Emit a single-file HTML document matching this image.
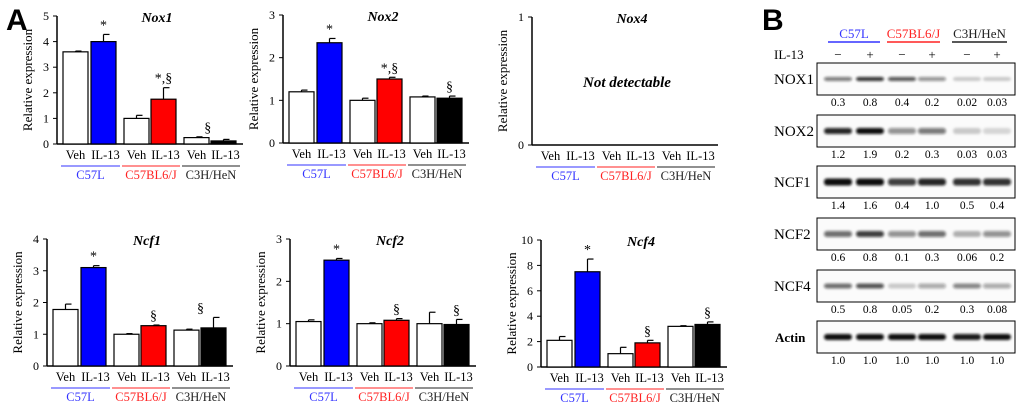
<!DOCTYPE html>
<html><head><meta charset="utf-8">
<style>
body{margin:0;background:#fff;}
svg{display:block;font-family:"Liberation Serif",serif;}
</style></head>
<body>
<svg id="fig" width="1020" height="402" viewBox="0 0 1020 402" xmlns="http://www.w3.org/2000/svg">
<defs><filter id="blur" x="-20%" y="-100%" width="140%" height="300%"><feGaussianBlur stdDeviation="1.2"/></filter></defs>
<text x="6" y="30" font-family="Liberation Sans,sans-serif" font-weight="bold" font-size="30">A</text>
<text x="762" y="30" font-family="Liberation Sans,sans-serif" font-weight="bold" font-size="30">B</text>
</svg>
<script>
const groups = ["C57L","C57BL6/J","C3H/HeN"];
const conds = ["Veh","IL-13"];
const nox1Vals = [3.6,4.0,1.0,1.75,0.25,0.12];
const nox1Err = [0.03,0.28,0.12,0.45,0.03,0.06];
const nox2Vals = [1.2,2.35,1.0,1.5,1.08,1.05];
const nox2Err = [0.04,0.1,0.05,0.04,0.02,0.05];
const ncf1Vals = [1.78,3.1,1.0,1.27,1.13,1.2];
const ncf1Err = [0.17,0.06,0.02,0.02,0.03,0.33];
const ncf2Vals = [1.05,2.5,1.0,1.08,1.0,0.98];
const ncf2Err = [0.04,0.04,0.02,0.04,0.27,0.12];
const ncf4Vals = [2.1,7.5,1.05,1.9,3.2,3.35];
const ncf4Err = [0.3,1.0,0.5,0.2,0.05,0.2];
const blotRows = ["NOX1","NOX2","NCF1","NCF2","NCF4","Actin"];
const blotNox1 = ["0.3","0.8","0.4","0.2","0.02","0.03"];
const blotNox2 = ["1.2","1.9","0.2","0.3","0.03","0.03"];
const blotNcf1 = ["1.4","1.6","0.4","1.0","0.5","0.4"];
const blotNcf2 = ["0.6","0.8","0.1","0.3","0.06","0.2"];
const blotNcf4 = ["0.5","0.8","0.05","0.2","0.3","0.08"];
const blotActin = ["1.0","1.0","1.0","1.0","1.0","1.0"];

const NS="http://www.w3.org/2000/svg";
const svg=document.getElementById('fig');
function mk(tag,attrs,parent,text){const e=document.createElementNS(NS,tag);for(const k in attrs)e.setAttribute(k,attrs[k]);if(text!==undefined)e.textContent=text;(parent||svg).appendChild(e);return e;}
const gColors=["#3333ff","#ff2222","#222"];
const fills=["#fff","#0000ff","#fff","#ff0000","#fff","#000"];
const barOff=[6,34,67,94,127,154];
const bw=25;

function chart(o){
  const g=mk('g',{});
  
  
  const ax=o.ax, zy=o.zy, ty=o.ty;
  const yS=v=>zy-(v/o.max)*(zy-ty);
  // axes
  const yl=mk('line',{x1:ax,y1:ty,x2:ax,y2:zy,stroke:'#000','stroke-width':1.5},g);
  
  const xl=mk('line',{x1:ax,y1:zy,x2:ax+186,y2:zy,stroke:'#000','stroke-width':1.5},g);
  
  o.ticks.forEach(t=>{
    mk('line',{x1:ax-4,y1:yS(t),x2:ax,y2:yS(t),stroke:'#000'},g);
    const tl=mk('text',{x:ax-8,y:yS(t)+4,'font-size':12,'text-anchor':'end'},g,String(t));
    
  });
  const yt=mk('text',{transform:`translate(${ax-25},${(ty+zy)/2}) rotate(-90)`,'font-size':13,'text-anchor':'middle'},g,'Relative expression');
  
  const tt=mk('text',{x:ax+100,y:ty+6,'font-size':14,'font-weight':'bold','font-style':'italic','text-anchor':'middle'},g,o.title);
  
  if(o.vals){
    o.vals.forEach((v,i)=>{
      const x=ax+barOff[i];
      const top=yS(v+o.err[i]);
      mk('line',{x1:x+bw/2,y1:yS(v),x2:x+bw/2,y2:top,stroke:'#000','stroke-width':1.2},g);
      mk('line',{x1:x+bw/2,y1:top,x2:x+bw/2+6,y2:top,stroke:'#000','stroke-width':1.2},g);
      const r=mk('rect',{x:x,y:yS(v),width:bw,height:zy-yS(v),fill:fills[i],stroke:'#000','stroke-width':1.2},g);
      
    });
    o.ann.forEach(a=>{
      const i=a[0];const bi=Math.floor(i);
      const x=ax+barOff[bi]+bw/2+(i-bi)*28;
      const v=Math.max(o.vals[bi]+o.err[bi], bi+1<6&&i>bi?o.vals[bi+1]+o.err[bi+1]:0);
      const at=mk('text',{x:x,y:yS(v)-5,'font-size':14,'text-anchor':'middle'},g,a[1]);
      
    });
  } else {
    const nd=mk('text',{x:ax+95,y:(ty+zy)/2+6,'font-size':15,'font-weight':'bold','font-style':'italic','text-anchor':'middle'},g,'Not detectable');
    
  }
  for(let gi=0;gi<3;gi++){
    for(let c=0;c<2;c++){
      const i=gi*2+c;
      const cl=mk('text',{x:ax+barOff[i]+bw/2+(c?2:0),y:zy+15,'font-size':12.5,'text-anchor':'middle'},g,conds[c]);
      
    }
    const x0=ax+barOff[gi*2]-2, x1=ax+barOff[gi*2+1]+bw+4;
    mk('line',{x1:x0,y1:zy+22,x2:x1,y2:zy+22,stroke:gColors[gi],'stroke-width':1},g);
    const sl=mk('text',{x:(x0+x1)/2,y:zy+35,'font-size':12.5,'text-anchor':'middle',fill:gColors[gi]},g,groups[gi]);
    
  }
}
chart({name:'nox1',title:'Nox1',ax:57,ty:16,zy:144,max:5,ticks:[0,1,2,3,4,5],vals:nox1Vals,err:nox1Err,ann:[[1,'*'],[3,'*,§'],[4.4,'§']]});
chart({name:'nox2',title:'Nox2',ax:283,ty:15,zy:143,max:3,ticks:[0,1,2,3],vals:nox2Vals,err:nox2Err,ann:[[1,'*'],[3,'*,§'],[5,'§']]});
chart({name:'nox4',title:'Nox4',ax:532,ty:17,zy:145,max:1,ticks:[0,1],vals:null});
chart({name:'ncf1',title:'Ncf1',ax:47,ty:239,zy:366,max:4,ticks:[0,1,2,3,4],vals:ncf1Vals,err:ncf1Err,ann:[[1,'*'],[3,'§'],[4.5,'§']]});
chart({name:'ncf2',title:'Ncf2',ax:290,ty:239,zy:366,max:3,ticks:[0,1,2,3],vals:ncf2Vals,err:ncf2Err,ann:[[1,'*'],[3,'§'],[5,'§']]});
chart({name:'ncf4',title:'Ncf4',ax:541,ty:240,zy:367,max:10,ticks:[0,2,4,6,8,10],vals:ncf4Vals,err:ncf4Err,ann:[[1,'*'],[3,'§'],[5,'§']]});

// Western blot panel
const lanes=[838,870,902,932,967,997];
const gx=[[828,880],[887,940],[952,1007]];
groups.forEach((s,i)=>{
  const t=mk('text',{x:(gx[i][0]+gx[i][1])/2,y:38,'font-size':13,'text-anchor':'middle',fill:gColors[i]},svg,s);
  
  mk('line',{x1:gx[i][0],y1:42,x2:gx[i][1],y2:42,stroke:gColors[i],'stroke-width':1.5});
});
const il=mk('text',{x:774,y:59,'font-size':13},svg,'IL-13');

lanes.forEach((x,i)=>{mk('text',{x:x,y:59,'font-size':13,'text-anchor':'middle'},svg,i%2?'+':'−');});
const rowY=[63,115,166,218,270,321];
const rowVals=[blotNox1,blotNox2,blotNcf1,blotNcf2,blotNcf4,blotActin];
const bandOp=[[0.55,0.85,0.7,0.45,0.2,0.2],[0.9,1,0.45,0.55,0.2,0.15],[1,1,0.8,0.9,0.85,0.85],[0.6,0.8,0.45,0.6,0.3,0.45],[0.6,0.7,0.2,0.35,0.5,0.35],[1,1,1,1,0.95,1]];
const bandH=[4,6,7,6,5,6];
blotRows.forEach((r,ri)=>{
  const y=rowY[ri];
  const lb=mk('text',{x:r==='Actin'?775:774,y:y+21,'font-size':r==='Actin'?13:15,'font-weight':r==='Actin'?'bold':'normal'},svg,r);
  
  const box=mk('rect',{x:817,y:y,width:198,height:32,fill:'#fbfbfb',stroke:'#000','stroke-width':1});
  
  lanes.forEach((x,i)=>{
    const b=mk('rect',{x:x-14,y:y+16-bandH[ri]/2,width:28,height:bandH[ri],rx:3,fill:'#111','fill-opacity':bandOp[ri][i],filter:'url(#blur)'});
    
    const v=mk('text',{x:x,y:y+43,'font-size':11.5,'text-anchor':'middle'},svg,rowVals[ri][i]);
    
  });
});
</script>
</body></html>
